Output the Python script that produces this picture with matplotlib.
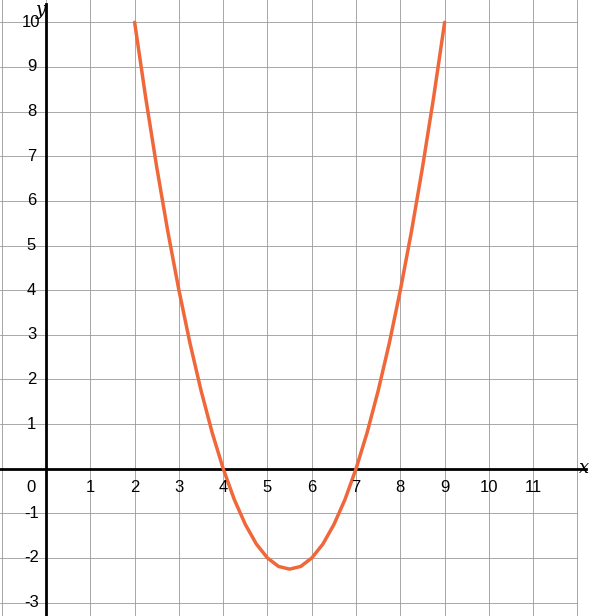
import matplotlib.pyplot as plt

plt.rcParams['font.family'] = 'Liberation Sans'

# points
xs = [2.0, 2.25, 2.5, 2.75, 3.0, 3.25, 3.5, 3.75, 4.0, 4.25, 4.5, 4.75, 5.0, 5.25, 5.5,
      5.75, 6.0, 6.25, 6.5, 6.75, 7.0, 7.25, 7.5, 7.75, 8.0, 8.25, 8.5, 8.75, 9.0]
ys = [10.0, 8.31, 6.75, 5.31, 4.0, 2.81, 1.75, 0.81, 0.0, -0.69, -1.25, -1.69, -2.0, -2.19, -2.25,
      -2.19, -2.0, -1.69, -1.25, -0.69, 0.0, 0.81, 1.75, 2.81, 4.0, 5.31, 6.75, 8.31, 10.0]

x_ticks = list(range(1, 12))
y_ticks = [-3, -2, -1, 1, 2, 3, 4, 5, 6, 7, 8, 9, 10]

fig = plt.figure(figsize=(5.93, 6.16), dpi=100)
ax = fig.add_axes([0, 0, 1, 1])
ax.set_xlim(-1.04, 12.35)
ax.set_ylim(-3.3, 10.5)
ax.axis('off')

for gx in range(-1, 13):
    ax.plot([gx, gx], [-3.3, 10.5], color='#999999', lw=0.6, zorder=1)
for gy in range(-3, 11):
    ax.plot([-1.04, 12], [gy, gy], color='#999999', lw=0.6, zorder=1)

ax.plot([-1.04, 12.2], [0, 0], color='black', lw=2, zorder=2)
ax.plot([0, 0], [-3.3, 10.4], color='black', lw=2, zorder=2)

ax.plot(xs, ys, color='#f0673a', lw=2.5, zorder=3, solid_capstyle='round')

for t in x_ticks:
    ax.text(t, -0.43, str(t), ha='center', va='center', fontsize=12)
ax.text(-0.33, -0.43, '0', ha='center', va='center', fontsize=12)
for t in y_ticks:
    ax.text(-0.33, t, str(t), ha='center', va='center', fontsize=12)
ax.text(12.15, 0.02, 'x', ha='center', va='center', fontsize=13, style='italic', family='serif')
ax.text(-0.12, 10.28, 'y', ha='center', va='center', fontsize=13, style='italic', family='serif')

fig.savefig('out.png')
